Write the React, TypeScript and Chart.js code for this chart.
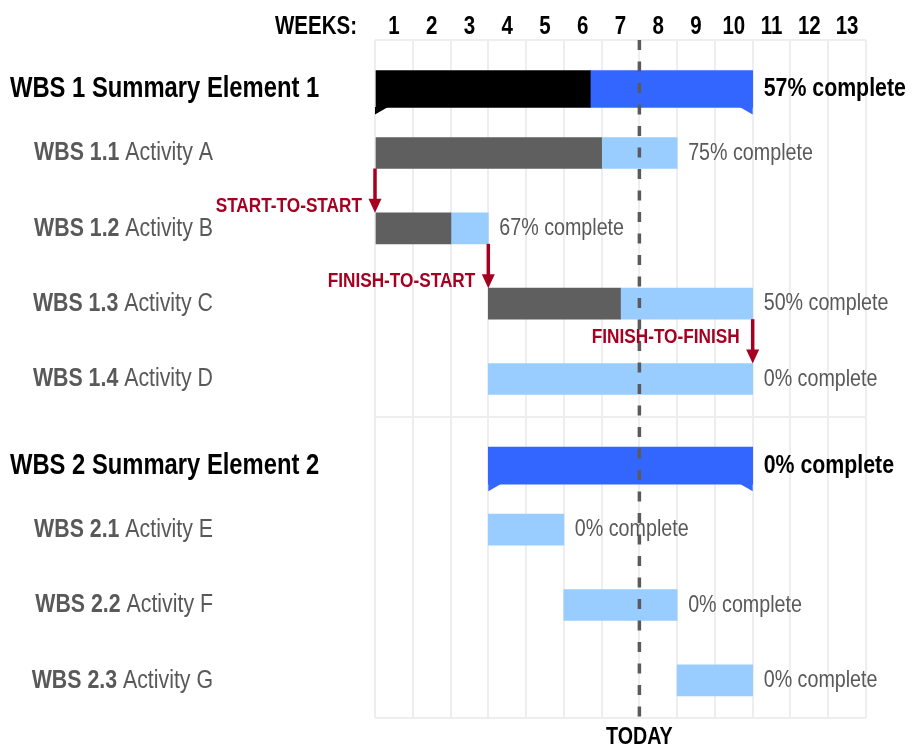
import React, { useEffect, useRef } from 'react';
import { Chart, registerables } from 'chart.js';

Chart.register(...registerables);

// ---------- data ----------
const WEEK_LABELS = ['1', '2', '3', '4', '5', '6', '7', '8', '9', '10', '11', '12', '13'];
const ROW_CODES = ['WBS 1', 'WBS 1.1', 'WBS 1.2', 'WBS 1.3', 'WBS 1.4', 'WBS 2', 'WBS 2.1', 'WBS 2.2', 'WBS 2.3'];
const ROW_NAMES = ['Summary Element 1', 'Activity A', 'Activity B', 'Activity C', 'Activity D', 'Summary Element 2', 'Activity E', 'Activity F', 'Activity G'];
const IS_SUMMARY = [true, false, false, false, false, true, false, false, false];
const START_WEEK = [0, 0, 0, 3, 3, 3, 3, 5, 8];
const END_WEEK = [10, 8, 3, 10, 10, 10, 5, 8, 10];
const PCT_COMPLETE = [57, 75, 67, 50, 0, 0, 0, 0, 0];
const TODAY_WEEK = 7;
const DEP_LABELS = ['START-TO-START', 'FINISH-TO-START', 'FINISH-TO-FINISH'];
const DEP_FROM_ROW = [1, 2, 3];
const DEP_TO_ROW = [2, 3, 4];
const DEP_WEEK = [0, 3, 10];

// ---------- style ----------
const FONT = '"Liberation Sans", Arial, sans-serif';
const SX = 0.82; // condensed text
const SUMMARY_SHIFT = 0.15;
const SUMMARY_THICK = 37;
const ACT_THICK = 31;
const NOTCH_W = 13;
const NOTCH_H = 7;
const DEP_LABEL_DY = [-22, -22, -42];
const DEP_COLOR = '#a50021';
const GREY_TEXT = '#595959';

function txt(ctx: CanvasRenderingContext2D, s: string, x: number, y: number, font: string, color: string, align: 'left' | 'right' | 'center') {
  ctx.save();
  ctx.font = font;
  ctx.fillStyle = color;
  ctx.textBaseline = 'middle';
  ctx.textAlign = 'left';
  const w = ctx.measureText(s).width * SX;
  const x0 = align === 'right' ? x - w : align === 'center' ? x - w / 2 : x;
  ctx.translate(x0, y);
  ctx.scale(SX, 1);
  ctx.fillText(s, 0, 0);
  ctx.restore();
  return w;
}

function measure(ctx: CanvasRenderingContext2D, s: string, font: string) {
  ctx.save();
  ctx.font = font;
  const w = ctx.measureText(s).width * SX;
  ctx.restore();
  return w;
}

const rowPos = ROW_CODES.map((_, i) => i + (IS_SUMMARY[i] ? SUMMARY_SHIFT : 0));
const doneEnd = START_WEEK.map((s, i) => s + ((END_WEEK[i] - s) * PCT_COMPLETE[i]) / 100);

const ganttPlugin = {
  id: 'gantt',
  afterDatasetsDraw(chart: any) {
    const { ctx, chartArea: a } = chart;
    const xs = chart.scales.x;
    const ys = chart.scales.y;

    // summary notches
    ROW_CODES.forEach((_, i) => {
      if (!IS_SUMMARY[i]) return;
      const yb = ys.getPixelForValue(rowPos[i]) + SUMMARY_THICK / 2;
      const xl = xs.getPixelForValue(START_WEEK[i]);
      const xr = xs.getPixelForValue(END_WEEK[i]);
      ctx.save();
      ctx.fillStyle = PCT_COMPLETE[i] > 0 ? '#000000' : '#3366ff';
      ctx.beginPath();
      ctx.moveTo(xl, yb - 0.5);
      ctx.lineTo(xl, yb + NOTCH_H);
      ctx.lineTo(xl + NOTCH_W, yb - 0.5);
      ctx.closePath();
      ctx.fill();
      ctx.fillStyle = PCT_COMPLETE[i] < 100 ? '#3366ff' : '#000000';
      ctx.beginPath();
      ctx.moveTo(xr, yb - 0.5);
      ctx.lineTo(xr, yb + NOTCH_H);
      ctx.lineTo(xr - NOTCH_W, yb - 0.5);
      ctx.closePath();
      ctx.fill();
      ctx.restore();
    });

    // today line
    const tx = xs.getPixelForValue(TODAY_WEEK);
    ctx.save();
    ctx.strokeStyle = '#5a5a5a';
    ctx.lineWidth = 3.5;
    ctx.setLineDash([10, 11.5]);
    ctx.beginPath();
    ctx.moveTo(tx, a.top);
    ctx.lineTo(tx, a.bottom);
    ctx.stroke();
    ctx.restore();

    // dependency arrows
    DEP_LABELS.forEach((label, k) => {
      const ax = xs.getPixelForValue(DEP_WEEK[k]);
      const y0 = ys.getPixelForValue(rowPos[DEP_FROM_ROW[k]]) + ACT_THICK / 2;
      const y1 = ys.getPixelForValue(rowPos[DEP_TO_ROW[k]]) - ACT_THICK / 2;
      ctx.save();
      ctx.strokeStyle = DEP_COLOR;
      ctx.fillStyle = DEP_COLOR;
      ctx.lineWidth = 3.5;
      ctx.beginPath();
      ctx.moveTo(ax, y0);
      ctx.lineTo(ax, y1 - 12);
      ctx.stroke();
      ctx.beginPath();
      ctx.moveTo(ax - 6.5, y1 - 14);
      ctx.lineTo(ax + 6.5, y1 - 14);
      ctx.lineTo(ax, y1);
      ctx.closePath();
      ctx.fill();
      ctx.restore();
      const ly = ys.getPixelForValue(rowPos[DEP_TO_ROW[k]]) + DEP_LABEL_DY[k];
      txt(ctx, label, ax - 13, ly, `bold 21px ${FONT}`, DEP_COLOR, 'right');
    });

    // percent labels and row labels
    ROW_CODES.forEach((code, i) => {
      const py = ys.getPixelForValue(rowPos[i]);
      const ex = xs.getPixelForValue(END_WEEK[i]) + 11;
      if (IS_SUMMARY[i]) {
        txt(ctx, `${PCT_COMPLETE[i]}% complete`, ex, py, `bold 26px ${FONT}`, '#000000', 'left');
        txt(ctx, `${code} ${ROW_NAMES[i]}`, a.left - 365, py, `bold 29px ${FONT}`, '#000000', 'left');
      } else {
        txt(ctx, `${PCT_COMPLETE[i]}% complete`, ex, py, `24px ${FONT}`, GREY_TEXT, 'left');
        const rightX = a.left - 162;
        const nf = `26px ${FONT}`;
        const bf = `bold 26px ${FONT}`;
        const wn = measure(ctx, ROW_NAMES[i], nf);
        txt(ctx, ROW_NAMES[i], rightX, py, nf, GREY_TEXT, 'right');
        txt(ctx, code + ' ', rightX - wn, py, bf, GREY_TEXT, 'right');
      }
    });

    // week labels (top)
    const topY = a.top - 13;
    WEEK_LABELS.forEach((w, k) => {
      txt(ctx, w, xs.getPixelForValue(k + 0.5), topY, `bold 25px ${FONT}`, '#000000', 'center');
    });
    txt(ctx, 'WEEKS:', a.left - 18, topY, `bold 25px ${FONT}`, '#000000', 'right');

    // TODAY label
    txt(ctx, 'TODAY', tx, a.bottom + 19, `bold 24px ${FONT}`, '#000000', 'center');
  },
};

function buildData(summary: boolean, done: boolean) {
  return ROW_CODES.map((_, i) => i)
    .filter((i) => IS_SUMMARY[i] === summary)
    .map((i) => (done ? { x: [START_WEEK[i], doneEnd[i]], y: rowPos[i] } : { x: [doneEnd[i], END_WEEK[i]], y: rowPos[i] }))
    .filter((d) => d.x[1] > d.x[0]);
}

export default function App() {
  const ref = useRef<HTMLCanvasElement>(null);
  useEffect(() => {
    if (!ref.current) return;
    const gridCfg = { color: '#eeeeee', lineWidth: 2, drawTicks: false, offset: false };
    const chart = new Chart(ref.current, {
      type: 'bar',
      data: {
        datasets: [
          { label: 'Summary done', data: buildData(true, true) as any, backgroundColor: '#000000', barThickness: SUMMARY_THICK, grouped: false } as any,
          { label: 'Summary remaining', data: buildData(true, false) as any, backgroundColor: '#3366ff', barThickness: SUMMARY_THICK, grouped: false } as any,
          { label: 'Activity done', data: buildData(false, true) as any, backgroundColor: '#5f5f5f', barThickness: ACT_THICK, grouped: false } as any,
          { label: 'Activity remaining', data: buildData(false, false) as any, backgroundColor: '#99ccff', barThickness: ACT_THICK, grouped: false } as any,
        ],
      },
      options: {
        indexAxis: 'y',
        responsive: false,
        animation: false,
        layout: { padding: { left: 367, top: 32, right: 39, bottom: 28 } },
        plugins: { legend: { display: false }, tooltip: { enabled: false } },
        scales: {
          x: {
            type: 'linear',
            min: 0,
            max: 13,
            offset: false,
            ticks: { display: false, stepSize: 1 },
            grid: gridCfg,
            border: { display: false },
          },
          y: {
            type: 'linear',
            min: -0.5,
            max: 8.5,
            reverse: true,
            offset: false,
            afterBuildTicks: (s: any) => {
              s.ticks = [-0.5, 4.5, 8.5].map((v) => ({ value: v }));
            },
            ticks: { display: false },
            grid: gridCfg,
            border: { display: false },
          },
        },
      } as any,
      plugins: [ganttPlugin],
    });
    return () => chart.destroy();
  }, []);
  return <canvas ref={ref} width={897} height={738} style={{ display: 'block' }} />;
}
